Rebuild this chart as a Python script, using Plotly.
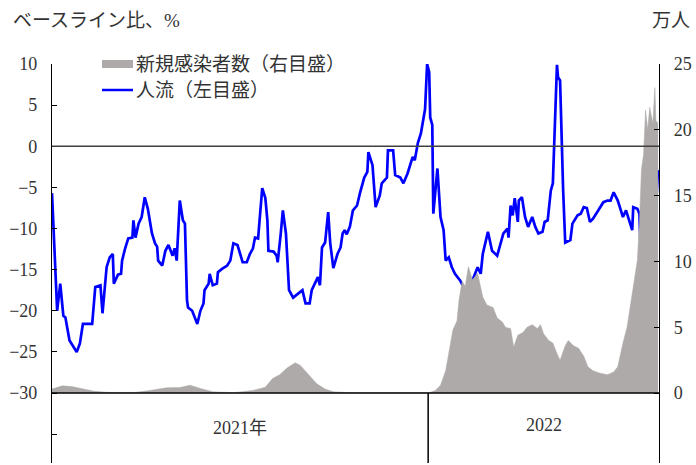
import pandas as pd
import plotly.graph_objects as go

# ---- data (day offsets from 2021-01-01) ----
flow_days = [0, 5, 8, 11, 13, 17, 24, 27, 30, 39, 42, 47, 49, 53, 56, 59, 60, 64, 67, 68, 71, 74, 78, 79, 81, 84, 87, 90, 93, 97,
             100, 102, 103, 107, 110, 113, 117, 119, 121, 124, 127, 129, 131, 132, 136, 141, 144, 147, 148, 152, 153, 156, 160, 161,
             165, 170, 173, 176, 180, 183, 185, 189, 192, 195, 197, 200, 204, 207, 209, 210, 215, 218, 219, 222, 224, 227, 230, 234,
             239, 243, 246, 250, 252, 255, 258, 260, 262, 265, 268, 270, 273, 277, 280, 282, 284, 286, 289, 292, 296, 299, 303, 306,
             307, 311, 314, 318, 320, 325, 326, 331, 333, 338, 341, 345, 350, 352, 355, 358, 362, 364, 366, 367, 369, 370, 374, 377,
             380, 382, 385, 388, 391, 396, 401, 405, 408, 413, 416, 418, 423, 427, 432, 438, 442, 443, 445, 447, 449, 452, 453, 456,
             459, 462, 466, 469, 472, 476, 478, 481, 484, 486, 487, 490, 491, 493, 496, 498, 503, 505, 510, 513, 516, 519, 522, 525,
             530, 535, 539, 542, 545, 549, 552, 554, 557, 560, 563, 564, 568, 570, 571, 574, 579, 583, 585, 588]
flow_vals = [-5.7, -20.0, -16.7, -20.6, -20.8, -23.6, -25.0, -24.0, -21.6, -21.6, -17.1, -16.9, -20.3, -14.7, -13.5, -13.1, -16.7,
             -15.6, -15.5, -13.9, -12.4, -11.2, -11.1, -9.0, -11.1, -9.4, -8.6, -6.2, -7.6, -10.6, -11.8, -12.2, -13.9, -14.5,
             -12.7, -12.0, -13.3, -12.4, -13.9, -6.6, -9.0, -9.4, -18.7, -19.6, -20.0, -21.6, -20.0, -19.1, -17.5, -16.7, -15.5,
             -16.9, -16.7, -15.3, -14.9, -14.5, -13.9, -11.8, -12.0, -13.3, -14.1, -14.1, -13.1, -12.4, -11.1, -11.2, -5.1, -6.3,
             -9.0, -12.7, -12.8, -13.3, -14.1, -10.6, -7.8, -10.6, -17.5, -18.4, -17.9, -17.5, -19.1, -19.1, -17.5, -16.7, -15.9,
             -16.9, -12.3, -11.7, -8.0, -11.8, -14.8, -13.1, -12.3, -10.6, -10.2, -10.7, -9.8, -7.8, -7.2, -5.6, -3.8, -3.1, -0.7,
             -2.3, -7.4, -6.0, -4.5, -3.8, -0.5, -0.5, -3.5, -3.8, -4.5, -3.3, -1.3, -1.7, 0.4, 1.6, 4.5, 10.0, 9.0, 3.5, 2.6,
             -8.2, -2.7, -8.6, -10.2, -13.9, -13.5, -14.7, -15.5, -16.3, -17.5, -18.1, -16.3, -14.7, -15.5, -13.1, -10.4, -12.7,
             -13.3, -10.6, -10.0, -11.1, -7.2, -8.4, -6.3, -9.2, -6.6, -6.2, -8.6, -9.8, -8.6, -9.8, -10.6, -10.4, -9.2, -9.0,
             -5.4, -4.5, -0.1, 9.9, 8.4, 8.0, -5.4, -11.7, -11.4, -9.4, -8.4, -8.2, -7.4, -7.5, -9.2, -8.8, -7.8, -6.8, -6.6,
             -6.6, -5.6, -6.6, -7.8, -8.6, -7.8, -9.0, -10.2, -7.4, -7.6, -8.2, -12.0, -11.2, -10.0, -10.4, -9.8, -2.9]

case_days = [0, 10, 19, 27, 40, 55, 80, 95, 111, 124, 134, 144, 156, 176, 195, 207, 214, 221, 228, 236, 241, 249, 257, 265, 273,
             290, 330, 366, 372, 377, 382, 386, 389, 393, 395, 398, 401, 404, 408, 413, 416, 418, 422, 428, 432, 437, 440, 445,
             448, 452, 457, 461, 466, 471, 474, 477, 482, 486, 490, 493, 498, 501, 506, 511, 516, 520, 525, 532, 539, 545, 549,
             551, 554, 558, 561, 563, 566, 568, 570, 572, 574, 576, 578, 580, 583, 585, 586, 588]
case_vals = [0.3, 0.55, 0.5, 0.35, 0.15, 0.05, 0.05, 0.2, 0.4, 0.42, 0.6, 0.35, 0.1, 0.03, 0.2, 0.45, 1.1, 1.4, 1.9, 2.3, 2.1,
             1.4, 0.7, 0.3, 0.1, 0.03, 0.02, 0.02, 0.2, 0.6, 1.7, 3.5, 4.8, 5.5, 7.1, 8.5, 8.1, 9.6, 8.6, 9.1, 8.0, 7.3, 6.7,
             6.5, 5.7, 5.4, 5.0, 4.9, 3.5, 4.4, 4.6, 5.0, 5.2, 4.9, 5.2, 4.5, 4.0, 3.8, 3.0, 2.5, 3.6, 4.0, 3.6, 3.4, 2.8,
             2.0, 1.7, 1.5, 1.4, 1.6, 2.0, 2.8, 3.8, 5.0, 6.5, 7.8, 9.0, 10.1, 13.0, 17.0, 18.1, 21.5, 20.0, 21.7, 20.5, 23.2,
             20.7, 20.5]

left_ticks = [-35, -30, -25, -20, -15, -10, -5, 0, 5, 10]
left_ticktext = ["", "−30", "−25", "−20", "−15", "−10", "−5", "0", "5", "10"]
right_ticks = [0, 5, 10, 15, 20, 25]
year_labels = ["2021年", "2022"]
legend_labels = ["新規感染者数（右目盛）", "人流（左目盛）"]

start = pd.Timestamp("2021-01-01")
flow_x = start + pd.to_timedelta(flow_days, unit="D")
case_x = start + pd.to_timedelta(case_days, unit="D")
x_end = start + pd.Timedelta(days=589)
split = pd.Timestamp("2022-01-01")

GRAY = "#ADAAA9"
BLUE = "#0000FF"
NUMFONT = "Liberation Serif"
JPFONT = "Liberation Serif, Noto Sans CJK JP"
TXT = "#333333"

fig = go.Figure()
fig.add_trace(go.Scatter(x=case_x, y=case_vals, yaxis="y2", mode="lines", fill="tozeroy",
                         line=dict(color=GRAY, width=0.5), fillcolor=GRAY, name=legend_labels[0], showlegend=False))
fig.add_trace(go.Scatter(x=flow_x, y=flow_vals, mode="lines", line=dict(color=BLUE, width=2.7),
                         name=legend_labels[1], showlegend=False))

L_LO, L_HI = -38.5, 10
frac = (-30 - L_LO) / (L_HI - L_LO)
R_HI = 25
R_LO = -frac * R_HI / (1 - frac)

fig.update_layout(
    width=696, height=465,
    margin=dict(l=52, r=37, t=64, b=2, autoexpand=False),
    plot_bgcolor="white", paper_bgcolor="white",
    font=dict(family=JPFONT, size=17, color=TXT),
    xaxis=dict(range=[start, x_end], showticklabels=False, ticks="", showgrid=False, zeroline=False, showline=False),
    yaxis=dict(range=[L_LO, L_HI], tickvals=left_ticks, ticktext=left_ticktext, ticks="inside", ticklen=5,
               tickcolor="black", showline=True, linecolor="black", linewidth=1.2, showgrid=False,
               zeroline=False, ticklabelstandoff=10, tickfont=dict(family=NUMFONT, size=18, color=TXT)),
    yaxis2=dict(range=[R_LO, R_HI], tickvals=right_ticks, ticks="inside", ticklen=5, tickcolor="black",
                overlaying="y", side="right", showline=True, linecolor="black", linewidth=1.2,
                showgrid=False, zeroline=False, ticklabelstandoff=10,
                tickfont=dict(family=NUMFONT, size=18, color=TXT)),
)

# horizontal lines: zero line (left axis) and base line at -30
fig.add_shape(type="line", xref="paper", yref="y", x0=0, x1=1, y0=0, y1=0, line=dict(color="#404040", width=1.5))
fig.add_shape(type="line", xref="paper", yref="y", x0=0, x1=1, y0=-30, y1=-30, line=dict(color="black", width=1.5))
# year separator
fig.add_shape(type="line", xref="x", yref="y", x0=split, x1=split, y0=L_LO, y1=-30, line=dict(color="black", width=1.5))

# year labels
fig.add_annotation(x=start + (split - start) / 2, y=-34.3, xref="x", yref="y", text=year_labels[0],
                   showarrow=False, font=dict(size=18))
fig.add_annotation(x=split + (x_end - split) / 2, y=-33.9, xref="x", yref="y", text=year_labels[1],
                   showarrow=False, font=dict(size=18))

px = lambda p: (p - 52) / 607
py = lambda p: 1 - (p - 64) / 399

# axis titles
fig.add_annotation(x=px(11), y=py(20), xref="paper", yref="paper", xanchor="left", yanchor="middle",
                   text="ベースライン比、%", showarrow=False, font=dict(size=19))
fig.add_annotation(x=px(692), y=py(20), xref="paper", yref="paper", xanchor="right", yanchor="middle",
                   text="万人", showarrow=False, font=dict(size=19))

# legend (manual)
fig.add_shape(type="line", xref="paper", yref="paper", x0=px(102), x1=px(133), y0=py(64), y1=py(64),
              line=dict(color=GRAY, width=8))
fig.add_shape(type="line", xref="paper", yref="paper", x0=px(102), x1=px(133), y0=py(90), y1=py(90),
              line=dict(color=BLUE, width=2.5))
fig.add_annotation(x=px(134), y=py(64), xref="paper", yref="paper", xanchor="left", yanchor="middle",
                   text=legend_labels[0], showarrow=False, font=dict(size=19))
fig.add_annotation(x=px(134), y=py(90), xref="paper", yref="paper", xanchor="left", yanchor="middle",
                   text=legend_labels[1], showarrow=False, font=dict(size=19))

fig.write_html("out.html", config={"displayModeBar": False},
               post_script="document.body.style.margin='0';")
